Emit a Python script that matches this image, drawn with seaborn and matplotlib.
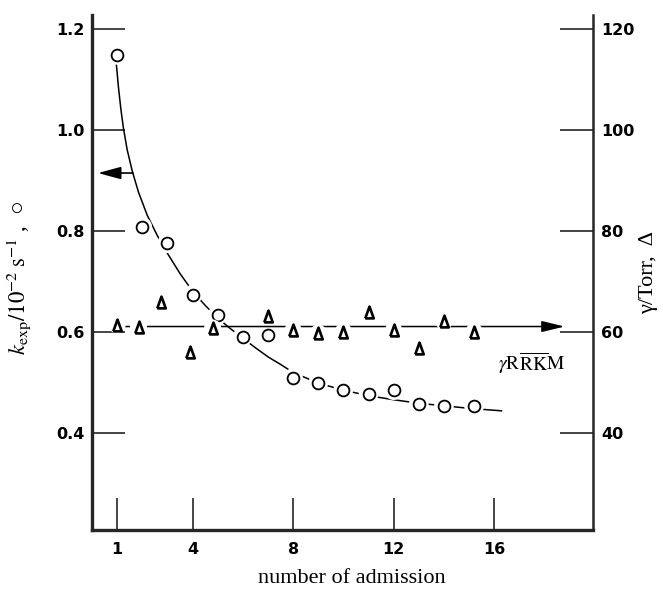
import numpy as np
import pandas as pd
import matplotlib
matplotlib.use("Agg")
import matplotlib.pyplot as plt
from matplotlib import font_manager
import seaborn as sns

# ---------------- data ----------------
# k_exp (left axis, 10^-2 s^-1), open circles
circ_x = [1, 2, 3, 4, 5, 6, 7, 8, 9, 10, 11, 12, 13, 14, 15.2]
circ_k = [1.148, 0.807, 0.775, 0.673, 0.633, 0.590, 0.593, 0.508,
          0.498, 0.485, 0.476, 0.484, 0.457, 0.453, 0.452]

# gamma / Torr (right axis), open triangles
tri_x = [1, 1.85, 2.75, 3.9, 4.8, 7, 8, 9, 10, 11, 12, 13, 14, 15.2]
tri_g = [61.3, 61.0, 65.9, 56.0, 60.7, 63.0, 60.3, 59.7, 60.0, 63.8,
         60.3, 56.7, 62.0, 60.0]

# smooth curve drawn through the circles
curve_x = [0.95, 1.05, 1.15, 1.25, 1.4, 1.6, 1.85, 2.2, 2.6, 3.0, 3.5, 4.0,
           4.5, 5.0, 5.5, 6.0, 6.5, 7.0, 7.5, 8.0, 9.0, 10.0, 11.0, 12.0,
           13.0, 14.0, 15.0, 16.3]
curve_k = [1.14, 1.085, 1.04, 1.003, 0.96, 0.918, 0.876, 0.83, 0.79, 0.755,
           0.715, 0.68, 0.652, 0.627, 0.606, 0.587, 0.568, 0.55, 0.535,
           0.519, 0.498, 0.484, 0.473, 0.465, 0.458, 0.453, 0.448, 0.443]

# RRKM pressure level (right axis) and the arrows
gamma_rrkm = 61.0
rrkm_x_start, rrkm_x_end = 0.97, 18.8
left_arrow_y = 0.914
left_arrow_from, left_arrow_to = 1.63, 0.24

x_ticks = [1, 4, 8, 12, 16]
left_ticks = [0.4, 0.6, 0.8, 1.0, 1.2]
right_ticks = [40, 60, 80, 100, 120]

# ---------------- fonts ----------------
available = {f.name for f in font_manager.fontManager.ttflist}
if "Liberation Sans Narrow" in available:
    tick_family, tick_size = "Liberation Sans Narrow", 13
else:
    tick_family, tick_size = "DejaVu Sans", 11.5
serif = ["Liberation Serif", "DejaVu Serif", "DejaVu Sans"]

# ---------------- figure ----------------
sns.set_theme(style="white")
plt.rcParams["font.family"] = ["DejaVu Sans"]
plt.rcParams["mathtext.fontset"] = "stix"

W, H = 663, 591
fig = plt.figure(figsize=(W / 100, H / 100), dpi=100)
L, R, T, B = 92, 593, 15, 530
ax = fig.add_axes([L / W, 1 - B / H, (R - L) / W, (B - T) / H])
ax2 = ax.twinx()

ax.set_xlim(0, 19.93)
ax.set_ylim(0.207, 1.227)
ax2.set_ylim(20.7, 122.7)

curve_df = pd.DataFrame({"x": curve_x, "k": curve_k})
circ_df = pd.DataFrame({"x": circ_x, "k": circ_k})
tri_df = pd.DataFrame({"x": tri_x, "g": tri_g})

# fitted curve
sns.lineplot(data=curve_df, x="x", y="k", ax=ax, color="black", lw=1.1,
             sort=False, zorder=2)
# white halos to break the line around the markers
sns.scatterplot(data=circ_df, x="x", y="k", ax=ax, s=200, color="white",
                edgecolor="none", zorder=3)
sns.scatterplot(data=circ_df, x="x", y="k", ax=ax, s=72, marker="o",
                facecolor="white", edgecolor="black", linewidth=1.3, zorder=4)

# left arrow
ax.annotate("", xy=(left_arrow_to, left_arrow_y),
            xytext=(left_arrow_from, left_arrow_y),
            arrowprops=dict(arrowstyle="-|>,head_length=1.4,head_width=0.38",
                            mutation_scale=10, color="black", lw=1.2,
                            shrinkA=0, shrinkB=0))

# RRKM horizontal line with arrow (right axis)
ax2.annotate("", xy=(rrkm_x_end, gamma_rrkm),
             xytext=(rrkm_x_start, gamma_rrkm),
             arrowprops=dict(arrowstyle="-|>,head_length=1.4,head_width=0.34",
                             mutation_scale=10, color="black", lw=1.1,
                             shrinkA=0, shrinkB=0),
             zorder=2)
tri_marker = [(-0.36, -0.5), (0.36, -0.5), (0.0, 0.5), (-0.36, -0.5)]
sns.scatterplot(data=tri_df, x="x", y="g", ax=ax2, s=150, color="white",
                edgecolor="none", zorder=3)
sns.scatterplot(data=tri_df, x="x", y="g", ax=ax2, s=72, marker=tri_marker,
                facecolor="white", edgecolor="black", linewidth=1.9, zorder=4)

ax2.text(17.5, 53.8, r"$\gamma\mathrm{R}\overline{\mathrm{RK}}\mathrm{M}$",
         fontsize=14, ha="center", va="center", color="black")

# ---------------- axes styling ----------------
for a in (ax, ax2):
    a.spines["top"].set_visible(False)
    a.set_xlabel("")
    a.set_ylabel("")
ax.spines["left"].set_linewidth(2.4)
ax.spines["bottom"].set_linewidth(2.4)
ax2.spines["right"].set_linewidth(1.8)
ax2.spines["left"].set_visible(False)
ax2.spines["bottom"].set_visible(False)
ax.spines["right"].set_visible(False)

ax.set_xticks(x_ticks)
ax.set_xticklabels([str(v) for v in x_ticks])
ax.set_yticks(left_ticks)
ax.set_yticklabels([f"{v:.1f}" for v in left_ticks])
ax2.set_yticks(right_ticks)
ax2.set_yticklabels([str(v) for v in right_ticks])

ax.tick_params(axis="x", direction="in", length=23, width=1.2, pad=9,
               bottom=True, labelsize=tick_size)
ax.tick_params(axis="y", direction="in", length=24, width=1.2, pad=5,
               left=True, labelsize=tick_size)
ax2.tick_params(axis="y", direction="in", length=24, width=1.2, pad=6,
                right=True, labelsize=tick_size)
for lab in ax.get_xticklabels() + ax.get_yticklabels() + ax2.get_yticklabels():
    lab.set_fontweight("bold")
    lab.set_family(tick_family)
    lab.set_color("black")

ax.set_ylabel(r"$k_{\mathrm{exp}}/10^{-2}\;\mathrm{s}^{-1}$ ,  ○", fontsize=16.5,
              family=serif, color="black")
ax.yaxis.set_label_coords((33 - L) / (R - L), 0.49)
ax2.set_ylabel("γ/Torr,  Δ", fontsize=16, family=serif, rotation=90,
               color="black")
ax2.yaxis.set_label_coords((639 - L) / (R - L), 0.5)
ax.set_xlabel("number of admission", fontsize=16, family=serif,
              color="black")
ax.xaxis.set_label_coords(0.518, (B - 569) / (B - T))

fig.savefig("out.png", dpi=100, facecolor="white")
